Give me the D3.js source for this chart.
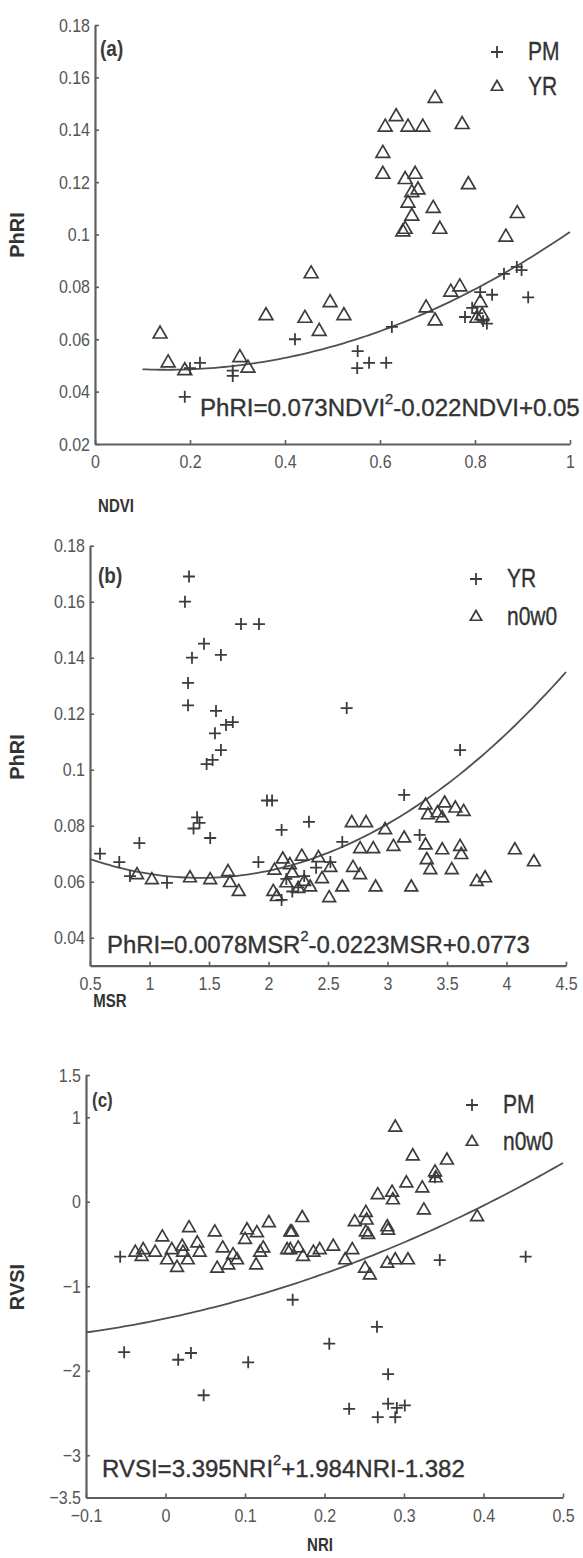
<!DOCTYPE html>
<html><head><meta charset="utf-8">
<script src="https://cdn.jsdelivr.net/npm/d3@7"></script>
<style>
html,body{margin:0;padding:0;background:#fff;}
svg{display:block;}
text{font-family:"Liberation Sans",Arial,Helvetica,sans-serif;}
</style></head><body>
<svg id="chart" width="583" height="1558"></svg>
<script>
// ---------------- DATA ----------------
// Panel (a): NDVI vs PhRI
const aPM = [[0.189,0.038],[0.200,0.049],[0.221,0.051],[0.290,0.048],[0.290,0.046],[0.421,0.060],[0.553,0.0555],[0.552,0.049],[0.577,0.051],[0.613,0.051],[0.625,0.0647],[0.811,0.078],[0.836,0.077],[0.794,0.072],[0.779,0.0685],[0.817,0.067],[0.825,0.066],[0.805,0.070],[0.861,0.085],[0.888,0.0876],[0.898,0.0864],[0.912,0.076]];
const aYR = [[0.716,0.152],[0.634,0.145],[0.611,0.141],[0.659,0.141],[0.690,0.141],[0.773,0.142],[0.606,0.131],[0.606,0.123],[0.653,0.121],[0.674,0.123],[0.786,0.119],[0.680,0.117],[0.667,0.116],[0.659,0.112],[0.712,0.110],[0.667,0.107],[0.889,0.108],[0.653,0.102],[0.648,0.101],[0.726,0.102],[0.865,0.099],[0.137,0.062],[0.360,0.069],[0.154,0.051],[0.189,0.048],[0.305,0.053],[0.322,0.049],[0.455,0.085],[0.495,0.074],[0.442,0.068],[0.524,0.069],[0.472,0.063],[0.697,0.072],[0.716,0.067],[0.749,0.078],[0.768,0.080],[0.811,0.074],[0.804,0.068],[0.815,0.069]];
const aFit = [0.073,-0.022,0.05];        // c2, c1, c0
const aFitRange = [0.1,1.0];
const aXTicks = [0,0.2,0.4,0.6,0.8,1];
const aXTickLabels = ["0","0.2","0.4","0.6","0.8","1"];
const aYTicks = [0.02,0.04,0.06,0.08,0.1,0.12,0.14,0.16,0.18];
const aYTickLabels = ["0.02","0.04","0.06","0.08","0.1","0.12","0.14","0.16","0.18"];
const aLegend = ["PM","YR"];
const aEquation = ["PhRI=0.073NDVI","2","-0.022NDVI+0.05"];

// Panel (b): MSR vs PhRI
const bYR = [[1.332,0.169],[1.298,0.160],[1.458,0.145],[1.357,0.140],[1.600,0.141],[1.769,0.152],[1.920,0.152],[1.324,0.131],[1.324,0.123],[1.559,0.121],[1.643,0.116],[1.700,0.117],[1.550,0.113],[1.600,0.107],[1.480,0.102],[1.530,0.1035],[1.987,0.089],[2.030,0.089],[1.400,0.083],[1.420,0.081],[1.370,0.079],[1.510,0.0756],[0.915,0.0738],[2.110,0.0785],[0.584,0.070],[0.746,0.067],[1.915,0.067],[0.836,0.062],[1.147,0.0596],[2.110,0.0535],[2.657,0.122],[3.610,0.107],[3.140,0.091],[2.340,0.0814],[2.620,0.0742],[3.270,0.0767],[2.520,0.067],[2.200,0.0565],[2.300,0.062],[2.400,0.065],[2.150,0.061],[2.250,0.058]];
const bN0W0 = [[0.895,0.0624],[1.02,0.0606],[1.34,0.0613],[1.51,0.0606],[1.66,0.0635],[1.676,0.0596],[1.75,0.0564],[2.04,0.0564],[2.07,0.0546],[2.12,0.068],[2.28,0.069],[2.42,0.0685],[2.52,0.065],[2.62,0.058],[2.51,0.0542],[2.70,0.081],[2.82,0.081],[2.77,0.0717],[2.88,0.0717],[2.71,0.065],[2.77,0.0624],[2.90,0.058],[2.98,0.0785],[3.05,0.0725],[3.14,0.0755],[3.20,0.058],[3.32,0.0873],[3.34,0.0838],[3.42,0.0845],[3.48,0.088],[3.57,0.0862],[3.64,0.085],[3.46,0.0827],[3.32,0.073],[3.33,0.0678],[3.36,0.0642],[3.46,0.0713],[3.54,0.0642],[3.61,0.0725],[3.62,0.0696],[3.75,0.060],[3.82,0.0613],[4.07,0.0713],[4.23,0.067],[2.20,0.063],[2.30,0.060],[2.35,0.058],[2.25,0.0575],[2.45,0.061],[2.18,0.066],[2.05,0.064],[2.15,0.0595]];
const bFit = [0.0078,-0.0223,0.0773];
const bFitRange = [0.5,4.5];
const bXTicks = [0.5,1,1.5,2,2.5,3,3.5,4,4.5];
const bXTickLabels = ["0.5","1","1.5","2","2.5","3","3.5","4","4.5"];
const bYTicks = [0.04,0.06,0.08,0.1,0.12,0.14,0.16,0.18];
const bYTickLabels = ["0.04","0.06","0.08","0.1","0.12","0.14","0.16","0.18"];
const bLegend = ["YR","n0w0"];
const bEquation = ["PhRI=0.0078MSR","2","-0.0223MSR+0.0773"];

// Panel (c): NRI vs RVSI
const cPM = [[-0.052,-1.78],[0.016,-1.87],[0.032,-1.79],[0.104,-1.90],[0.048,-2.29],[0.160,-1.16],[0.206,-1.68],[0.266,-1.48],[0.280,-2.04],[0.231,-2.45],[0.280,-2.39],[0.291,-2.44],[0.301,-2.41],[0.267,-2.55],[0.289,-2.55],[-0.057,-0.65],[0.345,-0.69],[0.453,-0.65],[0.339,0.29]];
const cN0W0 = [[0.0296,-0.31],[0.062,-0.36],[-0.004,-0.42],[0.1025,-0.335],[0.115,-0.37],[0.130,-0.25],[0.100,-0.45],[0.040,-0.49],[0.021,-0.53],[-0.038,-0.60],[-0.028,-0.57],[-0.013,-0.60],[0.008,-0.57],[0.022,-0.60],[0.043,-0.60],[0.072,-0.55],[0.123,-0.55],[0.153,-0.57],[0.159,-0.36],[-0.030,-0.65],[0.002,-0.69],[0.0145,-0.78],[0.028,-0.69],[0.065,-0.79],[0.079,-0.75],[0.090,-0.69],[0.085,-0.63],[0.114,-0.75],[0.119,-0.60],[0.289,0.88],[0.311,0.54],[0.354,0.49],[0.339,0.35],[0.340,0.28],[0.303,0.22],[0.323,0.16],[0.267,0.08],[0.285,0.11],[0.286,0.02],[0.325,-0.10],[0.392,-0.18],[0.172,-0.19],[0.157,-0.36],[0.238,-0.24],[0.252,-0.13],[0.253,-0.22],[0.252,-0.36],[0.255,-0.39],[0.279,-0.30],[0.280,-0.34],[0.157,-0.57],[0.167,-0.55],[0.173,-0.65],[0.186,-0.60],[0.194,-0.57],[0.211,-0.53],[0.226,-0.69],[0.235,-0.57],[0.251,-0.79],[0.257,-0.87],[0.279,-0.73],[0.289,-0.69],[0.305,-0.69]];
const cFit = [3.395,1.984,-1.382];
const cFitRange = [-0.1,0.5];
const cXTicks = [-0.1,0,0.1,0.2,0.3,0.4,0.5];
const cXTickLabels = ["\u22120.1","0","0.1","0.2","0.3","0.4","0.5"];
const cYTicks = [-3.5,-3,-2,-1,0,1,1.5];
const cYTickLabels = ["\u22123.5","\u22123","\u22122","\u22121","0","1","1.5"];
const cLegend = ["PM","n0w0"];
const cEquation = ["RVSI=3.395NRI","2","+1.984NRI-1.382"];

// ---------------- DRAWING ----------------
const svg = d3.select("#chart");
svg.append("rect").attr("width",583).attr("height",1558).attr("fill","#fff");

const AXIS = "#5e5e5e", MARK = "#3c3c3c", TXT = "#333";
const plusPath = "M-6,0H6M0,-6V6";
const SY = 1.2; // vertical stretch of the lettering in the source image

function panel(o){
  const g = svg.append("g");
  const x = d3.scaleLinear().domain(o.xDomain).range(o.xRange);
  const y = d3.scaleLinear().domain(o.yDomain).range(o.yRange);

  // axes
  const ax = g.append("g").attr("transform",`translate(0,${o.yRange[0]})`)
    .call(d3.axisBottom(x).tickValues(o.xTicks).tickFormat((d,i)=>o.xTickLabels[i]).tickSizeInner(-4).tickSizeOuter(0));
  const ay = g.append("g").attr("transform",`translate(${o.xRange[0]},0)`)
    .call(d3.axisLeft(y).tickValues(o.yTicks).tickFormat((d,i)=>o.yTickLabels[i]).tickSizeInner(-4).tickSizeOuter(0));
  [ax,ay].forEach(a=>{
    a.select(".domain").attr("stroke",AXIS).attr("stroke-width",2.2);
    a.selectAll(".tick line").attr("stroke",AXIS).attr("stroke-width",1.6);
    a.selectAll(".tick text").attr("fill","#555").attr("font-size",16)
      .attr("font-family","'Liberation Sans Narrow','Liberation Sans',Arial,sans-serif");
  });
  ax.selectAll(".tick text").attr("y",null).attr("dy",null)
    .attr("transform",`translate(0,24) scale(1,${SY})`);
  ay.selectAll(".tick text").attr("x",null).attr("dy",null).attr("text-anchor","end")
    .attr("transform",`translate(-5,6) scale(1,${SY})`);

  // fit curve
  const xs = d3.range(0,101).map(i=>o.fitRange[0]+(o.fitRange[1]-o.fitRange[0])*i/100);
  const f = v=>o.fit[0]*v*v+o.fit[1]*v+o.fit[2];
  g.append("path").datum(xs)
    .attr("d",d3.line().x(v=>x(v)).y(v=>y(f(v))))
    .attr("fill","none").attr("stroke","#505050").attr("stroke-width",1.8);

  // markers
  const tri = d3.symbol(d3.symbolTriangle, o.triSize)();
  function drawSeries(data, kind){
    g.append("g").selectAll("path").data(data).join("path")
      .attr("transform",d=>`translate(${x(d[0])},${y(d[1])})`)
      .attr("d", kind==="plus"?plusPath:tri)
      .attr("fill","none").attr("stroke",MARK).attr("stroke-width",kind==="plus"?1.8:1.7);
  }
  drawSeries(o.triData,"tri");
  drawSeries(o.plusData,"plus");

  // legend
  const lg = g.append("g");
  lg.append("path").attr("transform",`translate(${o.legX},${o.legY})`).attr("d",plusPath)
    .attr("fill","none").attr("stroke",MARK).attr("stroke-width",1.8);
  lg.append("path").attr("transform",`translate(${o.legX},${o.legY+o.legGap})`).attr("d",d3.symbol(d3.symbolTriangle,55)())
    .attr("fill","none").attr("stroke",MARK).attr("stroke-width",1.7);
  [0,1].forEach(i=>{
    lg.append("text").attr("transform",`translate(${o.legX+31},${o.legY+i*o.legGap+8}) scale(1,${SY})`)
      .text(o.legend[i]).attr("font-size",21).attr("fill",TXT)
      .attr("stroke",TXT).attr("stroke-width",0.3);
  });

  // panel label
  g.append("text").attr("transform",`translate(${o.lab[0]},${o.lab[1]}) scale(1,${SY})`).text(o.label)
    .attr("font-size",o.labSize).attr("font-weight","bold").attr("fill","#3a3a3a");

  // axis titles
  g.append("text").attr("transform",`translate(${o.xt[0]},${o.xt[1]}) scale(1,1.25)`).attr("text-anchor","middle").text(o.xTitle)
    .attr("font-size",15).attr("font-weight","bold").attr("fill",TXT);
  g.append("text").attr("transform",`translate(${o.yt[0]},${o.yt[1]}) rotate(-90)`).attr("text-anchor","middle").text(o.yTitle)
    .attr("font-size",20).attr("font-weight","bold").attr("fill",TXT);

  // equation
  const eg = g.append("g");
  const et = eg.append("text").attr("x",0).attr("y",0).attr("font-size",23).attr("fill",TXT)
    .attr("stroke",TXT).attr("stroke-width",0.35);
  et.append("tspan").text(o.eq[0]);
  et.append("tspan").text(o.eq[1]).attr("font-size",14).attr("dy",-11);
  et.append("tspan").text(o.eq[2]).attr("dy",11);
  const w = et.node().getComputedTextLength();
  eg.attr("transform",`translate(${o.eqPos[0]},${o.eqPos[1]}) scale(${o.eqW/w},1.08)`);
}

panel({xDomain:[0,1],xRange:[95,570],yDomain:[0.02,0.18],yRange:[444,25],
  xTicks:aXTicks,xTickLabels:aXTickLabels,yTicks:aYTicks,yTickLabels:aYTickLabels,
  fit:aFit,fitRange:aFitRange,plusData:aPM,triData:aYR,triSize:82,
  legend:aLegend,legX:497,legY:52,legGap:35,
  label:"(a)",lab:[100,56],labSize:19,
  xTitle:"NDVI",xt:[116,512],yTitle:"PhRI",yt:[24,235],
  eq:aEquation,eqPos:[200,416],eqW:380});

panel({xDomain:[0.5,4.5],xRange:[90,566],yDomain:[0.03,0.18],yRange:[965.7,545.7],
  xTicks:bXTicks,xTickLabels:bXTickLabels,yTicks:bYTicks,yTickLabels:bYTickLabels,
  fit:bFit,fitRange:bFitRange,plusData:bYR,triData:bN0W0,triSize:70,
  legend:bLegend,legX:476,legY:579,legGap:38,
  label:"(b)",lab:[98,583],labSize:19,
  xTitle:"MSR",xt:[110,1007],yTitle:"PhRI",yt:[24,757],
  eq:bEquation,eqPos:[107,953],eqW:423});

panel({xDomain:[-0.1,0.5],xRange:[86,563],yDomain:[-3.5,1.5],yRange:[1497.5,1075],
  xTicks:cXTicks,xTickLabels:cXTickLabels,yTicks:cYTicks,yTickLabels:cYTickLabels,
  fit:cFit,fitRange:cFitRange,plusData:cPM,triData:cN0W0,triSize:70,
  legend:cLegend,legX:472,legY:1105,legGap:37,
  label:"(c)",lab:[92,1107],labSize:17,
  xTitle:"NRI",xt:[320,1551],yTitle:"RVSI",yt:[24,1287],
  eq:cEquation,eqPos:[102,1477],eqW:363});
</script>
</body></html>
